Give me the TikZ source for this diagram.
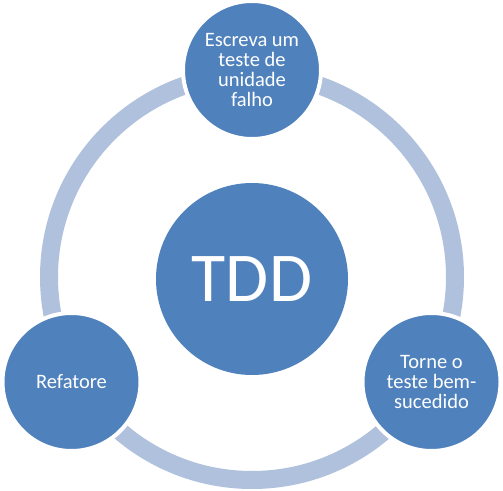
\documentclass[tikz,border=0pt]{standalone}
\usepackage{fontspec}
\setmainfont{Carlito}
\definecolor{tdd blue}{RGB}{79,129,189}
\definecolor{ring blue}{RGB}{176,193,221}
\begin{document}
\begin{tikzpicture}[x=1pt,y=1pt,
        step circle/.style={circle,fill=tdd blue,draw=white,line width=4pt,minimum size=138pt,inner sep=0pt,
            text=white,align=center,font=\fontsize{20.5}{20}\selectfont}]
    \useasboundingbox (0,0) rectangle (503,490);
    \coordinate (ring center) at (252,213);
    \draw [ring blue,line width=18pt] (ring center) circle (203pt);
    \node [step circle] (write test) at (252,420) {Escreva um\\teste de\\unidade\\falho};
    \node [step circle] (make pass) at (431.5,108) {Torne o\\teste bem-\\sucedido};
    \node [step circle] (refactor) at (71.5,108) {Refatore};
    \node [circle,fill=tdd blue,minimum size=192pt,inner sep=0pt,text=white,
        font=\fontsize{70}{70}\selectfont] (tdd) at (252,211) {TDD};
\end{tikzpicture}
\end{document}
